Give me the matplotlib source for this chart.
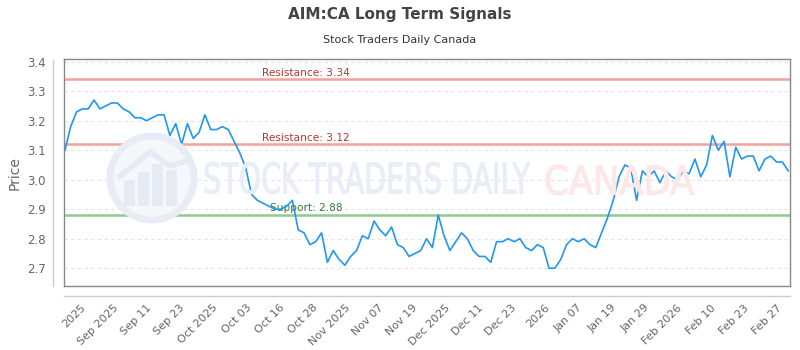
import numpy as np
import matplotlib
matplotlib.use("Agg")
import matplotlib.pyplot as plt
from matplotlib.lines import Line2D
from matplotlib.patches import Circle, Rectangle, Polygon, PathPatch
from matplotlib.textpath import TextPath
from matplotlib.font_manager import FontProperties
import matplotlib.transforms as mtransforms

title = "AIM:CA Long Term Signals"
subtitle = "Stock Traders Daily Canada"

prices = [
    3.10, 3.18, 3.23, 3.24, 3.24, 3.27, 3.24, 3.25, 3.26, 3.26,
    3.24, 3.23, 3.21, 3.21, 3.20, 3.21, 3.22, 3.22, 3.15, 3.19,
    3.12, 3.19, 3.14, 3.16, 3.22, 3.17, 3.17, 3.18, 3.17, 3.13,
    3.09, 3.04, 2.95, 2.93, 2.92, 2.91, 2.90, 2.90, 2.91, 2.93,
    2.83, 2.82, 2.78, 2.79, 2.82, 2.72, 2.76, 2.73, 2.71, 2.74,
    2.76, 2.81, 2.80, 2.86, 2.83, 2.81, 2.84, 2.78, 2.77, 2.74,
    2.75, 2.76, 2.80, 2.77, 2.88, 2.81, 2.76, 2.79, 2.82, 2.80,
    2.76, 2.74, 2.74, 2.72, 2.79, 2.79, 2.80, 2.79, 2.80, 2.77,
    2.76, 2.78, 2.77, 2.70, 2.70, 2.73, 2.78, 2.80, 2.79, 2.80,
    2.78, 2.77, 2.82, 2.87, 2.93, 3.01, 3.05, 3.04, 2.93, 3.03,
    3.01, 3.03, 2.99, 3.03, 3.01, 3.00, 3.03, 3.02, 3.07, 3.01,
    3.05, 3.15, 3.10, 3.13, 3.01, 3.11, 3.07, 3.08, 3.08, 3.03,
    3.07, 3.08, 3.06, 3.06, 3.03,
]

tick_labels = ["2025", "Sep 2025", "Sep 11", "Sep 23", "Oct 2025", "Oct 03",
               "Oct 16", "Oct 28", "Nov 2025", "Nov 07", "Nov 19", "Dec 2025",
               "Dec 11", "Dec 23", "2026", "Jan 07", "Jan 19", "Jan 29",
               "Feb 2026", "Feb 10", "Feb 23", "Feb 27"]

y_ticks = [2.7, 2.8, 2.9, 3.0, 3.1, 3.2, 3.3, 3.4]

resistance_levels = [3.34, 3.12]
support_levels = [2.88]

H = 350
fig = plt.figure(figsize=(8, 3.5), dpi=100)
ax = fig.add_axes([0.08, 0.183, 0.9075, 0.6476])

n = len(prices)
x = np.arange(n)
ax.set_xlim(-0.15, n - 1 + 0.3)
ax.set_ylim(2.64, 3.408)


def watermark_text(s, x0, yc, width, height, color):
    tp = TextPath((0, 0), s, size=1, prop=FontProperties(family="DejaVu Sans"))
    ext = tp.get_extents()
    tr = (mtransforms.Affine2D()
          .translate(-ext.x0, -ext.y0)
          .scale(width / ext.width, height / ext.height)
          .translate(x0, H - yc - height / 2))
    p = PathPatch(tp, transform=tr, facecolor=color, edgecolor=color,
                  linewidth=0.8, zorder=0.6)
    fig.patches.append(p)


# watermark logo
circ = Circle((152, H - 178), 42, transform=None, facecolor="#f5f7fb",
              edgecolor="#e8ecf4", linewidth=5, zorder=0.5)
fig.patches.append(circ)
for bx, bh in [(124, 26), (138, 34), (152, 42), (166, 36)]:
    r = Rectangle((bx, H - 206), 11, bh, transform=None, facecolor="#e6eaf2",
                  edgecolor="none", zorder=0.6)
    fig.patches.append(r)
poly = Polygon([(118, H - 178), (150, H - 152), (170, H - 166), (190, H - 160)],
               closed=False, fill=False, edgecolor="#e6eaf2", linewidth=4,
               transform=None, zorder=0.6)
fig.patches.append(poly)
watermark_text("STOCK TRADERS DAILY", 205, 178, 325, 32, "#e9edf5")
watermark_text("CANADA", 546, 180, 148, 30, "#fde8e8")

# grid
for yt in y_ticks:
    ax.axhline(yt, color="#e4e4e4", linewidth=0.8, linestyle=(0, (3, 3)), zorder=1)

blend = mtransforms.blended_transform_factory(ax.transAxes, ax.transData)
for lvl in resistance_levels:
    ax.axhline(lvl, color="#f4a19b", linewidth=1.8, zorder=2)
    ax.text(0.273, lvl + 0.006, f"Resistance: {lvl:.2f}", transform=blend,
            color="#b03a30", fontsize=7.6, ha="left", va="bottom", zorder=3)
for lvl in support_levels:
    ax.axhline(lvl, color="#8fcb8f", linewidth=1.8, zorder=2)
    ax.text(0.284, lvl + 0.006, f"Support: {lvl:.2f}", transform=blend,
            color="#2e7d32", fontsize=7.6, ha="left", va="bottom", zorder=3)

ax.plot(x, prices, color="#2196f3", linewidth=1.2, zorder=4)

ax.set_yticks(y_ticks)
ax.set_yticklabels([f"{v:.1f}" for v in y_ticks])
ax.tick_params(axis="y", length=0, pad=13, labelsize=8.5, labelcolor="#666666")

tick_pos = np.linspace(2.6, 122.0, len(tick_labels))
ax.set_xticks(tick_pos)
ax.set_xticklabels(tick_labels, rotation=45, ha="right", rotation_mode="anchor")
ax.tick_params(axis="x", length=0, pad=12, labelsize=8, labelcolor="#666666")

for s in ax.spines.values():
    s.set_color("#888888")
    s.set_linewidth(1.0)

ax.set_ylabel("Price", fontsize=10, color="#666666")
ax.yaxis.set_label_coords(-0.059, 0.5)

# outer axis border lines
fig.add_artist(Line2D([53 / 800, 53 / 800], [1 - 60 / H, 1 - 286 / H],
                      color="#cccccc", linewidth=1.0))
fig.add_artist(Line2D([64 / 800, 790 / 800], [1 - 296 / H, 1 - 296 / H],
                      color="#cccccc", linewidth=1.0))

fig.text(0.5, 1 - 15 / H, title, ha="center", va="center", fontsize=11,
         fontweight="bold", color="#444444")
fig.text(0.5, 1 - 40 / H, subtitle, ha="center", va="center", fontsize=8,
         color="#333333")

fig.savefig("out.png", dpi=100, facecolor="white")
